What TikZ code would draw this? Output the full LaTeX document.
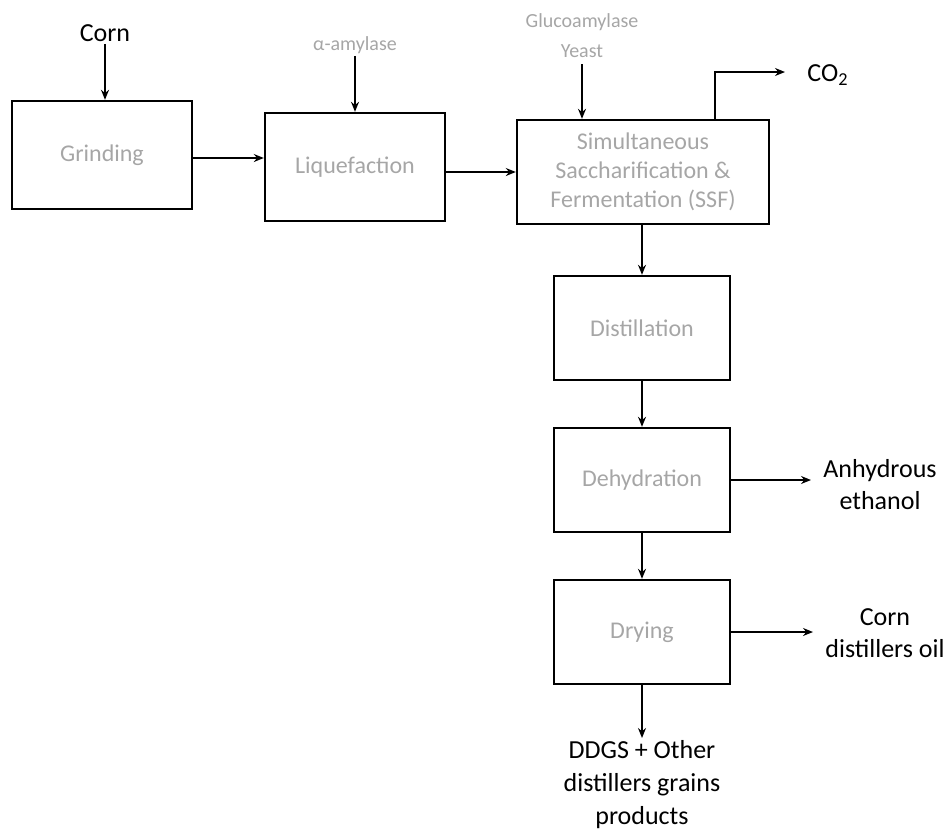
\documentclass[tikz,border=0pt]{standalone}
\usepackage{fontspec}
\setmainfont{Carlito}
\usetikzlibrary{arrows.meta,positioning}

\begin{document}
\begin{tikzpicture}[
  x=0.5pt, y=-0.5pt,
  font=\fontsize{13}{16}\selectfont,
  stage/.style={draw, line width=1.2pt, minimum width=90pt, minimum height=54pt, inner sep=2pt, align=center, text=black!35, font=\fontsize{12}{14.5}\selectfont},
  feed/.style={align=center, inner sep=1pt},
  thin/.style={text=black!35, font=\fontsize{10}{15}\selectfont},
  flow/.style={line width=0.7pt, -{Stealth[length=5pt,width=4pt]}}
]
\useasboundingbox (0,0) rectangle (949,832);
% process boxes
\node[stage] (grind) at (102,155) {Grinding};
\node[stage] (liq) at (355,167) {Liquefaction};
\node[stage, minimum width=126pt, minimum height=52pt] (ssf) at (643,172) {Simultaneous\\ Saccharification \&\\ Fermentation (SSF)};
\node[stage, minimum width=88pt, minimum height=52pt] (dist) at (642,328) {Distillation};
\node[stage, minimum width=88pt, minimum height=52pt] (dehy) at (642,480) {Dehydration};
\node[stage, minimum width=88pt, minimum height=52pt] (dry) at (642,632) {Drying};
% inputs
\node[feed] (corn) at (105,33) {Corn};
\node[feed, thin] (amy) at (355,45) {α-amylase};
\node[feed, thin] (gluc) at (582,36) {Glucoamylase\\ Yeast};
% outputs
\node[feed, anchor=west] (co2) at (805,75) {CO\textsubscript{2}};
\coordinate (co2a) at (715,72);
\node[feed] (eth) at (880,485) {Anhydrous\\ ethanol};
\node[feed] (oil) at (885,633) {Corn\\ distillers oil};
\node[feed, anchor=north, font=\fontsize{13}{16.5}\selectfont] (ddgs) at (642,738) {DDGS + Other\\ distillers grains\\ products};
% connectors
\draw[flow] (corn) -- (grind.north -| corn);
\draw[flow] (amy) -- (liq.north);
\draw[flow] (gluc.south) ++(0,4) -- (ssf.north -| gluc);
\draw[flow] (grind.east |- 0,158) -- (liq.west |- 0,158);
\draw[flow] (liq.east |- 0,172) -- (ssf.west |- 0,172);
\draw[flow] (ssf.north -| co2a) -- (co2a) -- ([xshift=-10pt]co2.west |- co2a);
\draw[flow] (ssf.south -| dist) -- (dist.north);
\draw[flow] (dist) -- (dehy);
\draw[flow] (dehy) -- (dry);
\draw[flow] (dehy.east) -- ([xshift=-5pt]eth.west |- dehy.east);
\draw[flow] (dry.east) -- ([xshift=-5pt]oil.west |- dry.east);
\draw[flow] (dry.south) -- (ddgs.north);
\end{tikzpicture}
\end{document}
